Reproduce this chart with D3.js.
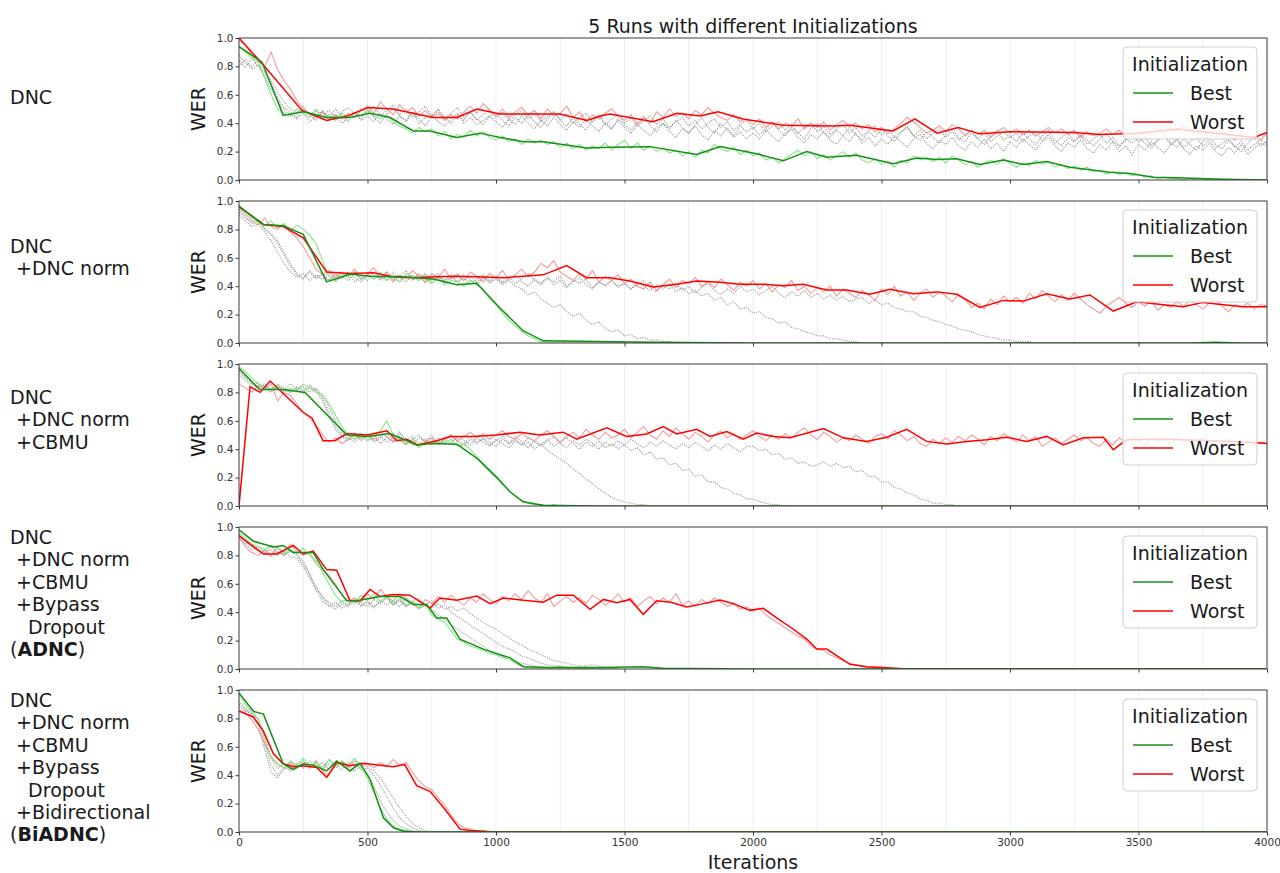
<!DOCTYPE html>
<html><head><meta charset="utf-8">
<script src="https://cdn.jsdelivr.net/npm/d3@7/dist/d3.min.js"></script>
<style>body{margin:0;background:#fff}svg{display:block;font-family:"DejaVu Sans",sans-serif}</style>
</head><body><svg id="c" width="1280" height="873"></svg>
<script>
// ---------------- data ----------------
const title = "5 Runs with different Initializations";
const xLabel = "Iterations";
const yLabel = "WER";
const xTicks = [0,500,1000,1500,2000,2500,3000,3500,4000];
const yTicks = [0,0.2,0.4,0.6,0.8,1.0];
const gridIters = [250,500,750,1000,1250,1500,1750,2000,2250,2500,2750,3000,3250,3500,3750];
const legendTitle = "Initialization";
const seriesNames = ["Best","Worst"];
const rowLabels = [
  ["DNC"],
  ["DNC"," +DNC norm"],
  ["DNC"," +DNC norm"," +CBMU"],
  ["DNC"," +DNC norm"," +CBMU"," +Bypass","   Dropout","(**ADNC**)"],
  ["DNC"," +DNC norm"," +CBMU"," +Bypass","   Dropout"," +Bidirectional","(**BiADNC**)"]
];
const RAW_STEP = 25; // raw curves: one value (WER %) every 25 iterations

// smoothed curves: [iteration, WER]
const bestSmoothP1 = [[0,.94],[90,.83],[172,.455],[250,.48],[341,.44],[432,.44],[510,.47],[588,.44],[678,.345],[743,.345],[847,.30],[938,.33],[1015,.30],[1106,.27],[1184,.27],[1353,.225],[1444,.23],[1599,.235],[1781,.18],[1872,.235],[2014,.185],[2118,.135],[2209,.20],[2287,.16],[2403,.175],[2546,.115],[2637,.155],[2715,.145],[2793,.15],[2883,.11],[2974,.14],[3052,.11],[3143,.13],[3233,.09],[3389,.055],[3467,.045],[3558,.02],[3648,.015],[3830,.005],[4000,0]];
const worstSmoothP1 = [[0,1.0],[90,.82],[245,.49],[341,.42],[420,.45],[502,.51],[598,.50],[678,.47],[755,.44],[848,.44],[926,.50],[1015,.465],[1132,.465],[1249,.465],[1354,.42],[1405,.45],[1444,.465],[1611,.41],[1704,.47],[1794,.45],[1864,.48],[1961,.43],[2117,.385],[2311,.38],[2377,.385],[2545,.345],[2630,.43],[2716,.33],[2798,.37],[2883,.325],[3000,.34],[3245,.335],[3350,.32],[3500,.33],[3650,.36],[3800,.33],[3950,.30],[4000,.335]];
const bestSmoothP2 = [[0,.96],[95,.835],[172,.826],[250,.765],[341,.43],[432,.486],[510,.47],[588,.467],[678,.462],[756,.45],[847,.41],[925,.42],[1016,.245],[1106,.085],[1184,.015],[1400,.01],[1600,.005],[2000,0],[3700,0],[3800,.006],[3900,0],[4000,0]];
const worstSmoothP2 = [[0,.96],[95,.835],[172,.82],[250,.74],[341,.50],[432,.49],[523,.495],[588,.47],[678,.46],[743,.465],[834,.47],[925,.467],[1029,.46],[1106,.47],[1184,.48],[1275,.545],[1353,.46],[1444,.46],[1521,.437],[1612,.395],[1703,.413],[1781,.437],[1872,.427],[1950,.413],[2040,.413],[2118,.404],[2196,.413],[2287,.373],[2364,.373],[2455,.343],[2533,.378],[2624,.347],[2715,.36],[2793,.343],[2883,.25],[2974,.30],[3052,.295],[3143,.347],[3233,.31],[3311,.338],[3402,.225],[3493,.29],[3597,.27],[3674,.256],[3752,.286],[3830,.27],[3908,.256],[4000,.256]];
const bestSmoothP3 = [[0,.97],[80,.82],[172,.82],[257,.80],[420,.50],[498,.49],[588,.51],[692,.43],[755,.44],[848,.435],[930,.33],[1004,.20],[1054,.10],[1105,.03],[1183,.005],[1400,0],[4000,0]];
const worstSmoothP3 = [[0,0],[43,.84],[82,.80],[121,.88],[249,.66],[284,.62],[327,.46],[373,.46],[420,.51],[498,.50],[576,.53],[614,.46],[653,.47],[692,.43],[770,.46],[821,.49],[912,.49],[1003,.50],[1093,.52],[1171,.50],[1261,.52],[1314,.47],[1431,.55],[1508,.49],[1586,.507],[1651,.56],[1703,.507],[1781,.54],[1833,.49],[1898,.525],[1962,.47],[2014,.514],[2079,.49],[2144,.48],[2274,.545],[2352,.48],[2442,.455],[2520,.484],[2598,.54],[2676,.455],[2754,.437],[2831,.455],[2909,.467],[2987,.484],[3065,.455],[3143,.49],[3207,.43],[3285,.48],[3363,.484],[3402,.397],[3454,.467],[3600,.47],[3800,.46],[3973,.444],[4000,.44]];
const bestSmoothP4 = [[0,.98],[56,.90],[134,.86],[172,.87],[211,.82],[289,.82],[328,.70],[419,.48],[458,.48],[549,.51],[627,.51],[678,.455],[730,.455],[769,.36],[808,.36],[860,.21],[951,.14],[1016,.10],[1054,.08],[1106,.016],[1210,.01],[1400,.01],[1573,.016],[1650,.005],[2000,0],[4000,0]];
const worstSmoothP4 = [[0,.94],[43,.88],[95,.81],[147,.81],[211,.87],[250,.81],[289,.83],[341,.70],[380,.695],[432,.48],[471,.48],[510,.56],[549,.51],[600,.525],[665,.52],[743,.43],[782,.50],[847,.485],[925,.514],[977,.46],[1029,.50],[1106,.485],[1184,.47],[1236,.52],[1301,.52],[1366,.42],[1418,.49],[1470,.467],[1521,.49],[1573,.385],[1625,.48],[1680,.47],[1742,.437],[1794,.455],[1872,.486],[1924,.46],[1988,.413],[2040,.427],[2092,.36],[2157,.28],[2209,.21],[2248,.14],[2287,.14],[2377,.033],[2442,.016],[2507,.01],[2600,0],[4000,0]];
const bestSmoothP5 = [[0,.98],[56,.85],[95,.83],[172,.48],[211,.44],[250,.48],[289,.47],[341,.43],[380,.50],[432,.43],[471,.485],[510,.37],[562,.10],[601,.03],[640,.005],[700,0],[4000,0]];
const worstSmoothP5 = [[0,.85],[56,.81],[95,.71],[134,.55],[172,.48],[211,.46],[250,.467],[302,.455],[341,.385],[380,.49],[432,.467],[484,.484],[549,.47],[600,.46],[645,.475],[691,.326],[743,.286],[795,.174],[860,.02],[899,.01],[1000,0],[4000,0]];

// raw curves (WER in %, every RAW_STEP iterations from 0)
const bestRawP1 = [94,90,86,83,72,60,50,47,45,50,47,44,49,43,46,42,47,44,48,45,
50,45,43,46,41,38,36,33,37,34,36,31,34,29,32,30,35,31,34,30,
28,31,27,29,25,29,26,28,25,27,23,26,22,25,21,24,22,26,21,25,
28,22,26,21,24,20,23,19,21,17,20,16,21,19,25,22,20,23,18,21,
17,19,14,16,12,15,18,21,17,20,15,18,14,17,20,16,19,14,12,15,
11,13,9,14,12,17,14,16,13,16,12,17,14,11,13,9,12,14,11,15,
12,9,12,10,14,11,13,9,11,8,10,7,9,6,7,4,6,4,5,3,
4,2,3,1,2,1,1,0,1,0,0,1,0,0,0,0,0,0,0,0,0];
const worstRawP1 = [98,95,88,84,80,90,78,70,64,56,50,47,44,48,42,46,43,47,44,49,
52,47,55,50,46,53,48,51,45,49,44,47,42,46,43,48,52,47,54,49,
45,50,44,48,51,46,49,43,50,45,47,52,44,48,41,46,43,47,50,45,
42,46,39,44,40,48,44,50,45,47,43,49,46,51,47,44,42,46,41,43,
39,43,37,41,36,40,38,43,36,40,37,41,35,39,42,38,40,36,39,34,
37,33,36,40,44,41,37,33,35,38,34,39,36,31,35,32,35,30,34,37,
33,36,32,35,31,34,37,33,36,32,35,30,34,31,33,36,32,35,31,33,
30,34,31,36,33,37,34,38,35,32,36,33,30,34,31,28,32,29,31,28,33];
const otherRunsP1 = [
[88,82,80,84,76,70,62,55,50,47,52,46,50,45,49,44,48,51,46,50,
47,52,45,49,53,46,50,44,48,52,45,49,43,47,51,44,48,42,46,50,
44,48,42,46,49,43,47,41,45,48,42,46,40,44,47,41,45,39,43,46,
40,44,38,42,45,39,43,37,41,44,38,42,36,40,43,37,41,35,39,42,
36,40,34,38,41,35,39,33,37,40,34,38,32,36,39,33,37,31,35,38,
32,36,30,34,37,31,35,29,33,36,30,34,28,32,35,29,33,27,31,34,
30,33,27,31,34,28,32,26,30,33,27,31,25,29,32,26,30,24,28,31,
27,30,24,28,31,25,29,23,27,30,24,28,22,26,29,23,27,21,25,28,26],
[80,85,78,81,72,64,56,49,46,43,47,41,45,49,43,46,40,44,47,42,
45,41,47,43,39,45,42,48,40,44,46,41,38,43,47,40,44,39,42,45,
41,37,43,39,45,40,36,42,38,44,39,35,41,37,43,38,34,40,36,42,
37,33,39,35,31,37,40,34,30,36,33,38,32,28,35,31,37,30,34,29,
33,29,35,31,27,33,36,30,26,32,29,34,28,25,31,27,33,26,30,24,
29,25,31,27,23,29,32,26,22,28,25,30,24,21,27,23,29,22,26,20,
27,23,29,25,21,27,30,24,20,26,23,28,22,19,25,21,27,20,24,18,
25,21,27,23,19,25,28,22,18,24,21,26,20,17,23,19,25,18,22,26,24],
[84,79,86,80,74,67,58,51,48,44,50,46,42,48,44,50,45,41,47,43,
49,44,40,46,51,45,41,47,43,38,45,50,44,40,46,42,48,43,39,45,
47,42,38,44,40,46,41,37,43,48,42,38,44,39,35,42,46,40,36,43,
39,35,41,45,38,34,40,36,42,37,33,39,44,37,33,40,35,31,38,34,
37,32,36,41,35,31,37,33,29,36,40,33,30,35,31,37,32,28,34,30,
36,31,27,33,38,31,28,34,30,26,32,36,30,27,33,29,25,31,35,28,
31,27,33,29,25,31,35,28,24,30,27,32,28,24,29,33,27,23,29,26,
30,26,22,28,32,26,23,29,25,21,27,31,25,22,28,24,20,26,30,24,27]];

const bestRawP2 = [97,93,88,85,83,86,81,84,79,83,80,76,70,58,47,44,49,46,50,45,
48,45,50,44,47,43,49,46,44,48,42,46,41,44,43,40,44,41,38,31,
27,21,16,12,8,5,3,1,1,0,1,0,0,0,0,0,0,0,0,0];
const worstRawP2 = [95,91,86,83,88,82,80,84,78,74,68,60,52,48,51,46,50,47,52,45,
49,53,46,50,44,48,45,51,47,43,49,46,52,45,48,44,50,47,43,49,
46,51,45,48,52,47,50,56,53,58,50,47,44,49,45,51,43,47,44,48,
42,45,40,38,43,37,41,45,39,44,42,46,40,43,39,45,41,37,43,40,
44,38,42,36,41,39,44,37,40,35,39,36,40,33,38,35,32,37,34,30,
38,34,40,33,36,30,35,38,32,36,33,29,34,31,25,28,24,31,27,33,
29,32,28,35,31,37,33,29,34,30,35,31,27,24,21,26,29,32,28,25,
29,26,30,23,27,25,29,26,30,27,24,28,31,26,22,27,25,28,24,27,26];
const otherRunsP2 = [
[92,88,84,86,80,76,70,62,54,48,45,50,46,49,44,48,45,50,46,43,
49,45,47,44,50,46,43,48,45,49,44,47,42,46,49,44,47,43,46,42,
45,41,44,40,38,34,36,31,28,25,27,22,19,21,16,13,15,10,8,9,
5,6,3,4,2,2,1,1,0,0,0,0,0,0,0,0,0,0,0,0],
[90,86,82,84,78,72,64,56,50,46,49,44,48,45,50,43,47,44,49,45,
46,50,44,48,43,47,51,45,48,42,46,49,44,47,43,48,45,41,46,44,
47,43,46,42,45,49,44,41,46,43,47,40,44,42,45,39,43,41,44,40,
42,38,43,40,37,41,38,42,36,39,35,37,33,35,30,32,27,29,24,25,
21,22,18,17,14,15,11,10,8,7,5,5,3,3,2,1,1,0,0,0],
[94,89,85,87,81,77,72,64,56,49,46,51,45,48,44,49,46,50,43,47,
44,48,45,50,46,43,47,44,49,45,42,47,44,48,43,46,41,45,48,43,
46,42,45,48,43,40,45,42,46,41,44,39,43,46,41,38,43,40,44,39,
42,38,41,44,39,36,41,38,42,37,40,35,39,42,37,34,38,35,40,36,
38,34,37,40,35,32,36,33,37,32,35,31,34,30,33,29,31,32,28,30,
27,28,25,24,22,22,19,18,16,15,13,12,10,9,8,6,5,4,3,2,
2,1,1,1,0,0,0,0,0,0,0,0,0,0,0,0,0,0,0,0]];

const bestRawP3 = [98,95,90,86,84,82,85,80,83,81,86,83,80,78,72,64,56,50,47,51,
46,49,53,60,50,46,43,47,41,45,43,46,44,47,42,44,40,35,29,24,
20,15,11,7,4,2,1,1,0,1,0,0,0,0,0,0,0,0,0,0];
const worstRawP3 = [86,83,80,85,82,86,74,80,78,72,66,62,57,50,45,48,44,47,51,48,
50,47,52,49,45,48,44,47,42,45,48,44,47,50,46,49,52,48,51,47,
50,53,49,47,51,48,46,50,53,49,45,49,52,48,54,50,47,52,48,50,
54,48,52,56,50,47,53,49,55,51,47,52,49,45,50,53,48,51,47,50,
53,49,46,50,47,51,48,52,55,50,47,52,49,45,48,46,50,47,44,49,
51,47,53,50,46,49,44,42,47,44,48,45,49,46,50,47,43,49,46,51,
48,45,50,46,49,42,45,48,44,47,50,46,48,44,42,47,43,48,45,49,
46,43,48,45,47,44,49,46,42,45,48,44,46,43,47,44,42,46,43,45,44];
const otherRunsP3 = [
[95,90,86,83,85,82,86,83,80,84,81,85,82,76,66,56,50,47,51,46,
49,45,48,52,46,49,44,47,50,45,48,43,47,44,49,46,43,48,45,42,
47,44,41,46,43,45,40,44,39,36,33,30,26,23,19,16,12,9,6,4,
3,2,1,1,0,0,0,0,0,0,0,0,0,0,0,0,0,0,0,0],
[93,88,85,87,83,80,84,81,86,82,84,80,83,78,70,60,52,48,45,50,
46,50,44,48,45,51,47,43,48,46,50,44,47,49,45,42,47,44,48,45,
42,47,44,49,45,41,46,43,47,42,45,48,44,40,45,42,46,41,44,40,
43,39,41,36,38,33,34,29,30,25,26,21,22,17,17,13,12,9,8,5,
5,3,2,1,1,0,0,0,0,0,0,0,0,0,0,0,0,0,0,0],
[96,91,87,84,86,81,85,82,80,83,79,84,81,74,63,54,49,46,50,47,
51,46,49,45,48,52,46,49,44,47,43,48,45,50,46,44,49,45,47,43,
46,49,44,47,43,48,45,42,46,49,44,41,46,43,47,44,40,45,42,46,
43,47,44,41,45,42,46,43,40,44,41,45,42,39,43,40,44,41,38,42,
42,39,40,36,37,33,34,30,31,28,29,31,28,30,27,28,24,25,21,21,
17,17,13,12,9,8,5,4,2,2,1,1,0,0,0,0,0,0,0,0]];

const bestRawP4 = [96,92,88,86,84,87,85,81,84,82,85,80,76,68,60,52,47,50,46,52,
48,53,47,51,46,50,45,48,43,46,38,35,33,27,21,19,16,15,13,11,
10,8,7,4,2,1,1,1,1,1,2,1,1,0,0,0,0,0,0,0];
const worstRawP4 = [93,86,82,80,84,80,86,82,88,83,80,82,74,70,66,60,52,48,50,47,
53,49,56,51,48,53,50,46,43,49,46,51,47,52,48,45,50,47,53,49,
46,51,48,53,49,55,50,47,53,44,48,51,47,50,46,52,49,45,48,53,
47,50,44,48,51,46,50,47,53,45,48,44,49,46,50,47,44,46,42,44,
41,43,38,35,32,29,26,23,21,16,14,13,10,8,6,4,3,2,1,1,
1,0,0,0,0,0,0,0,0,0];
const otherRunsP4 = [
[95,90,86,83,81,84,80,83,79,78,72,64,55,48,44,47,43,46,49,45,
48,44,47,50,45,49,44,47,43,46,42,38,35,31,28,25,22,19,16,13,
11,9,7,5,4,3,2,1,1,0,0,0,0,0,0,0,0,0,0,0],
[92,88,84,86,82,79,83,80,84,81,76,67,58,50,45,42,46,44,48,44,
47,43,49,45,48,44,50,46,42,45,48,43,45,40,37,34,31,28,25,22,
19,16,14,12,9,8,6,4,3,2,2,1,1,1,0,0,0,0,0,0],
[94,89,87,84,82,86,82,80,83,80,74,66,57,51,47,44,48,45,50,46,
44,49,46,51,45,48,44,47,50,45,43,46,42,44,41,43,39,36,33,30,
28,25,22,19,17,14,12,10,8,6,5,4,3,2,2,3,2,1,1,0]];

const bestRawP5 = [97,90,84,80,65,52,48,45,50,47,52,46,49,44,51,46,50,47,52,45,
38,28,17,9,4,2,1,0,0,0,0,0,0,0,0,0,0,0,0,0];
const worstRawP5 = [86,84,79,72,62,53,48,45,49,46,48,45,50,43,40,47,49,46,50,47,
48,45,49,46,51,47,49,42,36,32,30,24,19,12,6,3,2,1,1,0];
const otherRunsP5 = [
[90,86,82,75,58,42,38,44,48,45,49,46,50,44,48,45,49,46,43,47,
41,32,22,14,8,4,2,1,0,0,0,0,0,0,0,0,0,0,0,0],
[88,85,86,78,62,47,40,46,43,48,45,50,46,49,44,47,50,45,48,44,
45,40,33,25,17,10,6,3,1,0,0,0,0,0,0,0,0,0,0,0],
[92,87,83,80,68,52,45,48,44,47,50,45,48,46,51,47,44,49,46,48,
46,43,38,31,24,17,11,6,3,1,0,0,0,0,0,0,0,0,0,0]];

const panels = [
  {best:bestSmoothP1, worst:worstSmoothP1, bestRaw:bestRawP1, worstRaw:worstRawP1, others:otherRunsP1},
  {best:bestSmoothP2, worst:worstSmoothP2, bestRaw:bestRawP2, worstRaw:worstRawP2, others:otherRunsP2},
  {best:bestSmoothP3, worst:worstSmoothP3, bestRaw:bestRawP3, worstRaw:worstRawP3, others:otherRunsP3},
  {best:bestSmoothP4, worst:worstSmoothP4, bestRaw:bestRawP4, worstRaw:worstRawP4, others:otherRunsP4},
  {best:bestSmoothP5, worst:worstSmoothP5, bestRaw:bestRawP5, worstRaw:worstRawP5, others:otherRunsP5}
];

// ---------------- layout / style ----------------
const L = 239, R = 1267, PH = 142;
const tops = [38, 201, 364, 527, 690];
const labelFirstY = [97, 246, 397, 537, 700];
const labelLH = 22.4;
const C = {best:"#169016", worst:"#ff0000", bestRaw:"#86e686", worstRaw:"#f28a8a", other:"#8c8c8c",
           grid:"#eceef4", spine:"#3a3a3a", text:"#1a1a1a", tick:"#333"};

const svg = d3.select("#c");
const x = d3.scaleLinear().domain([0,4000]).range([L,R]);
const defs = svg.append("defs");

svg.append("text").attr("x",(L+R)/2).attr("y",33).attr("text-anchor","middle")
  .attr("font-size",19).attr("fill",C.text).text(title);

panels.forEach((p,k)=>{
  const top = tops[k];
  const y = d3.scaleLinear().domain([0,1]).range([top+PH, top]);
  const g = svg.append("g");
  defs.append("clipPath").attr("id","clip"+k).append("rect")
    .attr("x",L).attr("y",top).attr("width",R-L).attr("height",PH);

  // grid
  g.selectAll("line.grid").data(gridIters).join("line").attr("class","grid")
    .attr("x1",d=>x(d)).attr("x2",d=>x(d)).attr("y1",top).attr("y2",top+PH)
    .attr("stroke",C.grid).attr("stroke-width",1);

  const plot = g.append("g").attr("clip-path",`url(#clip${k})`);
  const line = d3.line().x(d=>x(d[0])).y(d=>y(d[1]));
  const raw = a => a.map((v,i)=>[i*RAW_STEP, v/100]);

  p.others.forEach(a=>{
    plot.append("path").attr("d",line(raw(a))).attr("fill","none")
      .attr("stroke",C.other).attr("stroke-width",1.1).attr("stroke-dasharray","1.2,1.2").attr("opacity",0.85);
  });
  plot.append("path").attr("d",line(raw(p.worstRaw))).attr("fill","none")
    .attr("stroke",C.worstRaw).attr("stroke-width",1.1).attr("opacity",0.85);
  plot.append("path").attr("d",line(raw(p.bestRaw))).attr("fill","none")
    .attr("stroke",C.bestRaw).attr("stroke-width",1.1).attr("opacity",1);
  plot.append("path").attr("d",line(p.worst)).attr("fill","none")
    .attr("stroke",C.worst).attr("stroke-width",1.5);
  plot.append("path").attr("d",line(p.best)).attr("fill","none")
    .attr("stroke",C.best).attr("stroke-width",1.5);

  // axes
  const ya = d3.axisLeft(y).tickValues(yTicks).tickFormat(d3.format(".1f")).tickSize(3.5).tickSizeOuter(0);
  const yg = g.append("g").attr("transform",`translate(${L},0)`).call(ya);
  const xa = d3.axisBottom(x).tickValues(xTicks).tickSize(3.5).tickSizeOuter(0)
    .tickFormat(k===panels.length-1 ? d3.format("d") : ()=>"");
  const xg = g.append("g").attr("transform",`translate(0,${top+PH})`).call(xa);
  [yg,xg].forEach(a=>{
    a.select(".domain").remove();
    a.attr("font-family","DejaVu Sans").attr("font-size",10.5);
    a.selectAll(".tick line").attr("stroke",C.spine);
    a.selectAll(".tick text").attr("fill",C.tick);
  });
  yg.selectAll(".tick text").attr("x",-5.5);
  g.append("rect").attr("x",L).attr("y",top).attr("width",R-L).attr("height",PH)
    .attr("fill","none").attr("stroke",C.spine).attr("stroke-width",1);

  // y label
  g.append("text").attr("transform",`translate(205,${top+PH/2}) rotate(-90)`)
    .attr("text-anchor","middle").attr("font-size",19).attr("fill",C.text).text(yLabel);

  // row label
  const t = svg.append("text").attr("font-size",19).attr("fill",C.text).attr("xml:space","preserve")
    .style("white-space","pre");
  rowLabels[k].forEach((ln,i)=>{
    const tl = t.append("tspan").attr("x",10).attr("y",labelFirstY[k]+7+i*labelLH);
    ln.split("**").forEach((seg,j)=>{
      if(!seg) return;
      tl.append("tspan").attr("font-weight", j%2 ? "bold" : null).text(seg);
    });
  });

  // legend
  const lg = g.append("g").attr("transform",`translate(1123,${top+9})`);
  lg.append("rect").attr("width",134).attr("height",92).attr("rx",4)
    .attr("fill","#fff").attr("fill-opacity",0.8).attr("stroke","#cfcfcf");
  lg.append("text").attr("x",67).attr("y",24).attr("text-anchor","middle")
    .attr("font-size",19).attr("fill",C.text).text(legendTitle);
  seriesNames.forEach((nm,i)=>{
    const yy = 46 + i*29;
    lg.append("line").attr("x1",10).attr("x2",50).attr("y1",yy).attr("y2",yy)
      .attr("stroke",i===0?C.best:C.worst).attr("stroke-width",1.5);
    lg.append("text").attr("x",67).attr("y",yy+7).attr("font-size",19).attr("fill",C.text).text(nm);
  });
});

svg.append("text").attr("x",(L+R)/2).attr("y",869).attr("text-anchor","middle")
  .attr("font-size",19).attr("fill",C.text).text(xLabel);
</script></body></html>
